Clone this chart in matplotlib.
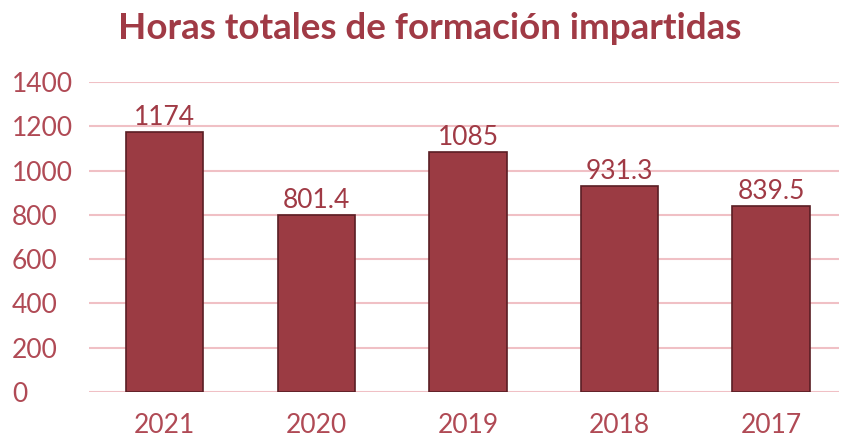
import matplotlib
matplotlib.use("Agg")
import matplotlib.pyplot as plt
import matplotlib.transforms as mtransforms

categories = ["2021", "2020", "2019", "2018", "2017"]
values = [1174, 801.4, 1085, 931.3, 839.5]
labels = ["1174", "801.4", "1085", "931.3", "839.5"]
yticks = [0, 200, 400, 600, 800, 1000, 1200, 1400]

plt.rcParams['font.family'] = ['Lato', 'DejaVu Sans']

fig = plt.figure(figsize=(8.43, 4.42), dpi=100)
ax = fig.add_axes([0.1056, 0.113, 0.89, 0.7015])

bar_color = "#9B3B43"
edge_color = "#5A1E24"
text_color = "#B04A55"
grid_color = "#F0C0C5"

x = list(range(len(categories)))
ax.bar(x, values, width=0.51, color=bar_color, edgecolor=edge_color, linewidth=1.2, zorder=3)

for xi, v, lab in zip(x, values, labels):
    ax.text(xi, v + 8, lab, ha="center", va="bottom", fontsize=19, color="#A03A45", zorder=4)

ax.set_ylim(0, 1400)
ax.set_xlim(-0.5, 4.45)
ax.set_yticks(yticks)
ax.set_xticks(x)
ax.set_xticklabels(categories)
ax.yaxis.grid(True, color=grid_color, linewidth=1.5, zorder=0)
ax.set_axisbelow(True)
for s in ax.spines.values():
    s.set_visible(False)
ax.tick_params(axis="both", length=0, labelsize=19, labelcolor=text_color)
ax.tick_params(axis="x", pad=15)
for t in ax.get_yticklabels():
    t.set_ha("left")
    t.set_transform(mtransforms.blended_transform_factory(fig.transFigure, ax.transData))
    t.set_x(12/843)

fig.text(0.51, 0.935, "Horas totales de formación impartidas", ha="center", va="center",
         fontsize=26.5, fontweight="bold", color="#A03A45")

fig.savefig("out.png", dpi=100)
